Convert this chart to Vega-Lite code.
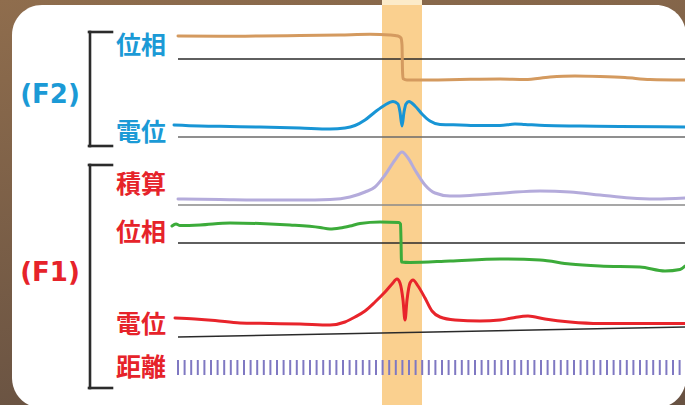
{
  "$schema": "https://vega.github.io/schema/vega-lite/v6.json",
  "width": 685,
  "height": 405,
  "autosize": {"type": "none"},
  "padding": 0,
  "background": "#8a6a4c",
  "config": {"view": {"stroke": null}},
  "datasets": {
    "frame": [{"x": 0, "x2": 685, "y": 0, "y2": 405}],
    "panel": [{"x": 12, "x2": 686, "y": 5, "y2": 408}],
    "band": [{"x": 382, "x2": 422, "y": 5, "y2": 405}],
    "bandtop": [{"x": 382, "x2": 422, "y": 0, "y2": 5}],
    "baselines": [
      {"k": "dark", "x": 178, "x2": 685, "y": 59, "y2": 59},
      {"k": "gray", "x": 178, "x2": 685, "y": 137, "y2": 137},
      {"k": "light", "x": 178, "x2": 685, "y": 205, "y2": 205},
      {"k": "dark", "x": 178, "x2": 685, "y": 243, "y2": 243},
      {"k": "dark", "x": 178, "x2": 685, "y": 337, "y2": 327}
    ],
    "brackets": [
      {"x": 90, "x2": 90, "y": 32, "y2": 146},
      {"x": 89, "x2": 112, "y": 32, "y2": 32},
      {"x": 89, "x2": 112, "y": 146, "y2": 146},
      {"x": 90, "x2": 90, "y": 165, "y2": 388},
      {"x": 89, "x2": 112, "y": 165, "y2": 165},
      {"x": 89, "x2": 112, "y": 388, "y2": 388}
    ],
    "curves": [
      {"s": "F2phase", "x": 178, "y": 36},
      {"s": "F2phase", "x": 220, "y": 36.3},
      {"s": "F2phase", "x": 260, "y": 36},
      {"s": "F2phase", "x": 300, "y": 35.6},
      {"s": "F2phase", "x": 340, "y": 35},
      {"s": "F2phase", "x": 370, "y": 34.3},
      {"s": "F2phase", "x": 390, "y": 35},
      {"s": "F2phase", "x": 398, "y": 36},
      {"s": "F2phase", "x": 401, "y": 38},
      {"s": "F2phase", "x": 402, "y": 45},
      {"s": "F2phase", "x": 402.5, "y": 70},
      {"s": "F2phase", "x": 403, "y": 78.5},
      {"s": "F2phase", "x": 407, "y": 80},
      {"s": "F2phase", "x": 430, "y": 80},
      {"s": "F2phase", "x": 460, "y": 79.5},
      {"s": "F2phase", "x": 500, "y": 79},
      {"s": "F2phase", "x": 525, "y": 79.5},
      {"s": "F2phase", "x": 550, "y": 77},
      {"s": "F2phase", "x": 575, "y": 76},
      {"s": "F2phase", "x": 600, "y": 76.5},
      {"s": "F2phase", "x": 625, "y": 77.5},
      {"s": "F2phase", "x": 650, "y": 79.5},
      {"s": "F2phase", "x": 685, "y": 80},

      {"s": "F2pot", "x": 174, "y": 125},
      {"s": "F2pot", "x": 200, "y": 126},
      {"s": "F2pot", "x": 230, "y": 126.5},
      {"s": "F2pot", "x": 260, "y": 127},
      {"s": "F2pot", "x": 300, "y": 128},
      {"s": "F2pot", "x": 330, "y": 129},
      {"s": "F2pot", "x": 345, "y": 128},
      {"s": "F2pot", "x": 355, "y": 125.5},
      {"s": "F2pot", "x": 365, "y": 120},
      {"s": "F2pot", "x": 375, "y": 112},
      {"s": "F2pot", "x": 385, "y": 105},
      {"s": "F2pot", "x": 393, "y": 101.5},
      {"s": "F2pot", "x": 398, "y": 104},
      {"s": "F2pot", "x": 400, "y": 112},
      {"s": "F2pot", "x": 402, "y": 126},
      {"s": "F2pot", "x": 404, "y": 112},
      {"s": "F2pot", "x": 406, "y": 104},
      {"s": "F2pot", "x": 409, "y": 101.5},
      {"s": "F2pot", "x": 415, "y": 106},
      {"s": "F2pot", "x": 422, "y": 114},
      {"s": "F2pot", "x": 430, "y": 121},
      {"s": "F2pot", "x": 440, "y": 124.5},
      {"s": "F2pot", "x": 460, "y": 125},
      {"s": "F2pot", "x": 480, "y": 125.5},
      {"s": "F2pot", "x": 500, "y": 125.5},
      {"s": "F2pot", "x": 515, "y": 124},
      {"s": "F2pot", "x": 525, "y": 124.5},
      {"s": "F2pot", "x": 545, "y": 125.5},
      {"s": "F2pot", "x": 580, "y": 126},
      {"s": "F2pot", "x": 620, "y": 126.5},
      {"s": "F2pot", "x": 685, "y": 127},

      {"s": "integ", "x": 178, "y": 199},
      {"s": "integ", "x": 220, "y": 199.5},
      {"s": "integ", "x": 260, "y": 200},
      {"s": "integ", "x": 300, "y": 200},
      {"s": "integ", "x": 330, "y": 199.5},
      {"s": "integ", "x": 350, "y": 197},
      {"s": "integ", "x": 365, "y": 192},
      {"s": "integ", "x": 375, "y": 187},
      {"s": "integ", "x": 385, "y": 175},
      {"s": "integ", "x": 395, "y": 160},
      {"s": "integ", "x": 402, "y": 152},
      {"s": "integ", "x": 408, "y": 158},
      {"s": "integ", "x": 415, "y": 170},
      {"s": "integ", "x": 425, "y": 185},
      {"s": "integ", "x": 435, "y": 193},
      {"s": "integ", "x": 450, "y": 196},
      {"s": "integ", "x": 470, "y": 195.5},
      {"s": "integ", "x": 490, "y": 194},
      {"s": "integ", "x": 510, "y": 192.5},
      {"s": "integ", "x": 540, "y": 191},
      {"s": "integ", "x": 570, "y": 192},
      {"s": "integ", "x": 600, "y": 195},
      {"s": "integ", "x": 630, "y": 198},
      {"s": "integ", "x": 655, "y": 199},
      {"s": "integ", "x": 685, "y": 198},

      {"s": "F1phase", "x": 172, "y": 226},
      {"s": "F1phase", "x": 176, "y": 224},
      {"s": "F1phase", "x": 180, "y": 225.5},
      {"s": "F1phase", "x": 200, "y": 225},
      {"s": "F1phase", "x": 230, "y": 223},
      {"s": "F1phase", "x": 260, "y": 223.5},
      {"s": "F1phase", "x": 290, "y": 225},
      {"s": "F1phase", "x": 320, "y": 227.5},
      {"s": "F1phase", "x": 330, "y": 229},
      {"s": "F1phase", "x": 340, "y": 228},
      {"s": "F1phase", "x": 350, "y": 226},
      {"s": "F1phase", "x": 360, "y": 223.5},
      {"s": "F1phase", "x": 380, "y": 222},
      {"s": "F1phase", "x": 399, "y": 222.5},
      {"s": "F1phase", "x": 400.5, "y": 224},
      {"s": "F1phase", "x": 401, "y": 240},
      {"s": "F1phase", "x": 401.5, "y": 262},
      {"s": "F1phase", "x": 410, "y": 262.5},
      {"s": "F1phase", "x": 450, "y": 261},
      {"s": "F1phase", "x": 500, "y": 259},
      {"s": "F1phase", "x": 540, "y": 260},
      {"s": "F1phase", "x": 570, "y": 264},
      {"s": "F1phase", "x": 600, "y": 266},
      {"s": "F1phase", "x": 640, "y": 267},
      {"s": "F1phase", "x": 665, "y": 271},
      {"s": "F1phase", "x": 680, "y": 269.5},
      {"s": "F1phase", "x": 685, "y": 266},

      {"s": "F1pot", "x": 175, "y": 318},
      {"s": "F1pot", "x": 195, "y": 319},
      {"s": "F1pot", "x": 215, "y": 320.5},
      {"s": "F1pot", "x": 240, "y": 323},
      {"s": "F1pot", "x": 270, "y": 323.5},
      {"s": "F1pot", "x": 300, "y": 324},
      {"s": "F1pot", "x": 330, "y": 325},
      {"s": "F1pot", "x": 345, "y": 322},
      {"s": "F1pot", "x": 355, "y": 317},
      {"s": "F1pot", "x": 365, "y": 311},
      {"s": "F1pot", "x": 375, "y": 302},
      {"s": "F1pot", "x": 385, "y": 292},
      {"s": "F1pot", "x": 392, "y": 284},
      {"s": "F1pot", "x": 397, "y": 279},
      {"s": "F1pot", "x": 400, "y": 283},
      {"s": "F1pot", "x": 403, "y": 300},
      {"s": "F1pot", "x": 405, "y": 320},
      {"s": "F1pot", "x": 407, "y": 300},
      {"s": "F1pot", "x": 410, "y": 283},
      {"s": "F1pot", "x": 413, "y": 280},
      {"s": "F1pot", "x": 418, "y": 286},
      {"s": "F1pot", "x": 425, "y": 298},
      {"s": "F1pot", "x": 432, "y": 311},
      {"s": "F1pot", "x": 440, "y": 317},
      {"s": "F1pot", "x": 455, "y": 320},
      {"s": "F1pot", "x": 480, "y": 321},
      {"s": "F1pot", "x": 500, "y": 320},
      {"s": "F1pot", "x": 512, "y": 318},
      {"s": "F1pot", "x": 528, "y": 316},
      {"s": "F1pot", "x": 545, "y": 319},
      {"s": "F1pot", "x": 570, "y": 322},
      {"s": "F1pot", "x": 600, "y": 323.5},
      {"s": "F1pot", "x": 640, "y": 323.5},
      {"s": "F1pot", "x": 685, "y": 323.5}
    ],
    "ticks": [
      {"d": 178}, {"d": 184.6}, {"d": 191.2}, {"d": 197.8}, {"d": 204.4}, {"d": 211}, {"d": 217.6}, {"d": 224.2}, {"d": 230.8}, {"d": 237.4},
      {"d": 244}, {"d": 250.6}, {"d": 257.2}, {"d": 263.8}, {"d": 270.4}, {"d": 277}, {"d": 283.6}, {"d": 290.2}, {"d": 296.8}, {"d": 303.4},
      {"d": 310}, {"d": 316.6}, {"d": 323.2}, {"d": 329.8}, {"d": 336.4}, {"d": 343}, {"d": 349.6}, {"d": 356.2}, {"d": 362.8}, {"d": 369.4},
      {"d": 376}, {"d": 382.6}, {"d": 389.2}, {"d": 395.8}, {"d": 402.4}, {"d": 409}, {"d": 415.6}, {"d": 422.2}, {"d": 428.8}, {"d": 435.4},
      {"d": 442}, {"d": 448.6}, {"d": 455.2}, {"d": 461.8}, {"d": 468.4}, {"d": 475}, {"d": 481.6}, {"d": 488.2}, {"d": 494.8}, {"d": 501.4},
      {"d": 508}, {"d": 514.6}, {"d": 521.2}, {"d": 527.8}, {"d": 534.4}, {"d": 541}, {"d": 547.6}, {"d": 554.2}, {"d": 560.8}, {"d": 567.4},
      {"d": 574}, {"d": 580.6}, {"d": 587.2}, {"d": 593.8}, {"d": 600.4}, {"d": 607}, {"d": 613.6}, {"d": 620.2}, {"d": 626.8}, {"d": 633.4},
      {"d": 640}, {"d": 646.6}, {"d": 653.2}, {"d": 659.8}, {"d": 666.4}, {"d": 673}, {"d": 679.6}
    ],
    "labels": [
      {"t": "位相", "g": "F2", "x": 141, "y": 46},
      {"t": "電位", "g": "F2", "x": 141, "y": 133},
      {"t": "積算", "g": "F1", "x": 141, "y": 185},
      {"t": "位相", "g": "F1", "x": 141, "y": 233},
      {"t": "電位", "g": "F1", "x": 141, "y": 325},
      {"t": "距離", "g": "F1", "x": 141, "y": 368}
    ],
    "groups": [
      {"t": "(F2)", "g": "F2", "x": 50, "y": 95},
      {"t": "(F1)", "g": "F1", "x": 50, "y": 273}
    ]
  },
  "resolve": {"scale": {"color": "independent"}},
  "layer": [
    {
      "data": {"name": "frame"},
      "mark": {"type": "rect", "color": {"gradient": "linear", "x1": 0, "y1": 0, "x2": 0.3, "y2": 1, "stops": [{"offset": 0, "color": "#8f6d4d"}, {"offset": 1, "color": "#685242"}]}},
      "encoding": {
        "x": {"field": "x", "type": "quantitative", "scale": {"domain": [0, 685], "nice": false, "zero": false}, "axis": null},
        "x2": {"field": "x2"},
        "y": {"field": "y", "type": "quantitative", "scale": {"domain": [0, 405], "reverse": true, "nice": false, "zero": false}, "axis": null},
        "y2": {"field": "y2"}
      }
    },
    {
      "data": {"name": "panel"},
      "mark": {"type": "rect", "color": "#ffffff", "cornerRadius": 30},
      "encoding": {
        "x": {"field": "x", "type": "quantitative"},
        "x2": {"field": "x2"},
        "y": {"field": "y", "type": "quantitative"},
        "y2": {"field": "y2"}
      }
    },
    {
      "data": {"name": "band"},
      "mark": {"type": "rect", "color": "#fad08f"},
      "encoding": {
        "x": {"field": "x", "type": "quantitative"},
        "x2": {"field": "x2"},
        "y": {"field": "y", "type": "quantitative"},
        "y2": {"field": "y2"}
      }
    },
    {
      "data": {"name": "bandtop"},
      "mark": {"type": "rect", "color": "#fcebc9"},
      "encoding": {
        "x": {"field": "x", "type": "quantitative"},
        "x2": {"field": "x2"},
        "y": {"field": "y", "type": "quantitative"},
        "y2": {"field": "y2"}
      }
    },
    {
      "data": {"name": "baselines"},
      "mark": {"type": "rule", "strokeWidth": 1.6},
      "encoding": {
        "x": {"field": "x", "type": "quantitative"},
        "x2": {"field": "x2"},
        "y": {"field": "y", "type": "quantitative"},
        "y2": {"field": "y2"},
        "color": {"field": "k", "type": "nominal", "scale": {"domain": ["dark", "gray", "light"], "range": ["#2a2a2a", "#6a6a6a", "#8a8a8a"]}, "legend": null}
      }
    },
    {
      "data": {"name": "curves"},
      "mark": {"type": "line", "strokeWidth": 3, "interpolate": "monotone", "strokeCap": "round", "strokeJoin": "round"},
      "encoding": {
        "x": {"field": "x", "type": "quantitative"},
        "y": {"field": "y", "type": "quantitative"},
        "color": {"field": "s", "type": "nominal", "scale": {"domain": ["F2phase", "F2pot", "integ", "F1phase", "F1pot"], "range": ["#d49a5f", "#1895d5", "#b4abdb", "#3cab3a", "#e8242b"]}, "legend": null}
      }
    },
    {
      "data": {"name": "ticks"},
      "mark": {"type": "rule", "strokeWidth": 2, "color": "#7f78c2"},
      "encoding": {
        "x": {"field": "d", "type": "quantitative"},
        "y": {"datum": 360, "type": "quantitative"},
        "y2": {"datum": 375}
      }
    },
    {
      "data": {"name": "brackets"},
      "mark": {"type": "rule", "strokeWidth": 2.6, "color": "#2b2b2b", "strokeCap": "square"},
      "encoding": {
        "x": {"field": "x", "type": "quantitative"},
        "x2": {"field": "x2"},
        "y": {"field": "y", "type": "quantitative"},
        "y2": {"field": "y2"}
      }
    },
    {
      "data": {"name": "labels"},
      "mark": {"type": "text", "fontSize": 25, "fontWeight": "bold", "font": "Noto Sans CJK JP", "align": "center", "baseline": "middle"},
      "encoding": {
        "x": {"field": "x", "type": "quantitative"},
        "y": {"field": "y", "type": "quantitative"},
        "text": {"field": "t"},
        "color": {"field": "g", "type": "nominal", "scale": {"domain": ["F2", "F1"], "range": ["#1b9ad6", "#e6232a"]}, "legend": null}
      }
    },
    {
      "data": {"name": "groups"},
      "mark": {"type": "text", "fontSize": 26, "fontWeight": "bold", "font": "DejaVu Sans", "align": "center", "baseline": "middle"},
      "encoding": {
        "x": {"field": "x", "type": "quantitative"},
        "y": {"field": "y", "type": "quantitative"},
        "text": {"field": "t"},
        "color": {"field": "g", "type": "nominal", "scale": {"domain": ["F2", "F1"], "range": ["#1b9ad6", "#e6232a"]}, "legend": null}
      }
    }
  ]
}
